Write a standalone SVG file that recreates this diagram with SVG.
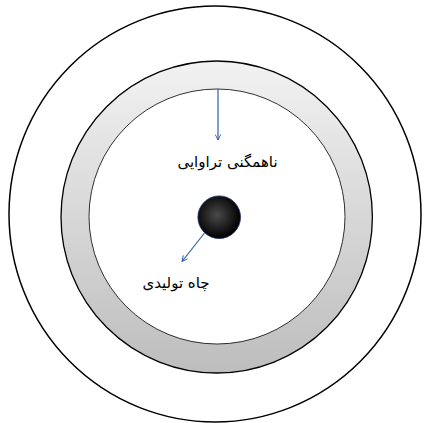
<svg xmlns="http://www.w3.org/2000/svg" width="424" height="423" viewBox="0 0 424 423">
<style>
.ln{fill:none;stroke:#000;}
.arr{stroke:#2e5fa8;stroke-width:1.2;fill:none;marker-end:url(#ah);}
.lbl{font-family:"DejaVu Sans","Noto Sans",sans-serif;font-size:15px;fill:#000;text-anchor:middle;direction:rtl;}
</style>
<defs>
<linearGradient id="ring" x1="0" y1="0" x2="0" y2="1">
<stop offset="0" stop-color="#f2f2f2"/>
<stop offset="1" stop-color="#bdbdbd"/>
</linearGradient>
<radialGradient id="well" cx="0.45" cy="0.45" r="0.55">
<stop offset="0" stop-color="#4a4a4a"/>
<stop offset="1" stop-color="#000"/>
</radialGradient>
<marker id="ah" viewBox="0 0 10 10" refX="9" refY="5" markerWidth="7" markerHeight="7" orient="auto" markerUnits="userSpaceOnUse">
<path d="M1,1 L9,5 L1,9" fill="none" stroke="#2e5fa8" stroke-width="1.3"/>
</marker>
</defs>
<rect width="424" height="423" fill="#fff"/>
<g id="outer"><ellipse cx="215" cy="214" rx="206" ry="208" class="ln" stroke-width="1.5"/></g>
<g id="ring-zone"><ellipse cx="216.7" cy="217" rx="155.7" ry="156" fill="url(#ring)" stroke="#000" stroke-width="1.3"/></g>
<g id="inner"><ellipse cx="217" cy="216.5" rx="128" ry="127.5" fill="#fff" stroke="#000" stroke-width="0.8"/></g>
<g id="well-node"><circle cx="219.2" cy="217.2" r="21.3" fill="url(#well)" stroke="#1a2a66" stroke-width="0.8"/></g>
<g id="connectors">
<line x1="218" y1="89" x2="218" y2="140" class="arr"/>
<line x1="204.5" y1="233" x2="182" y2="261.5" class="arr"/>
</g>
<g id="label-heterogeneity"><text x="227.5" y="167" class="lbl">ناهمگنی تراوایی</text></g>
<g id="label-well"><text x="176" y="288" class="lbl">چاه تولیدی</text></g>
</svg>
